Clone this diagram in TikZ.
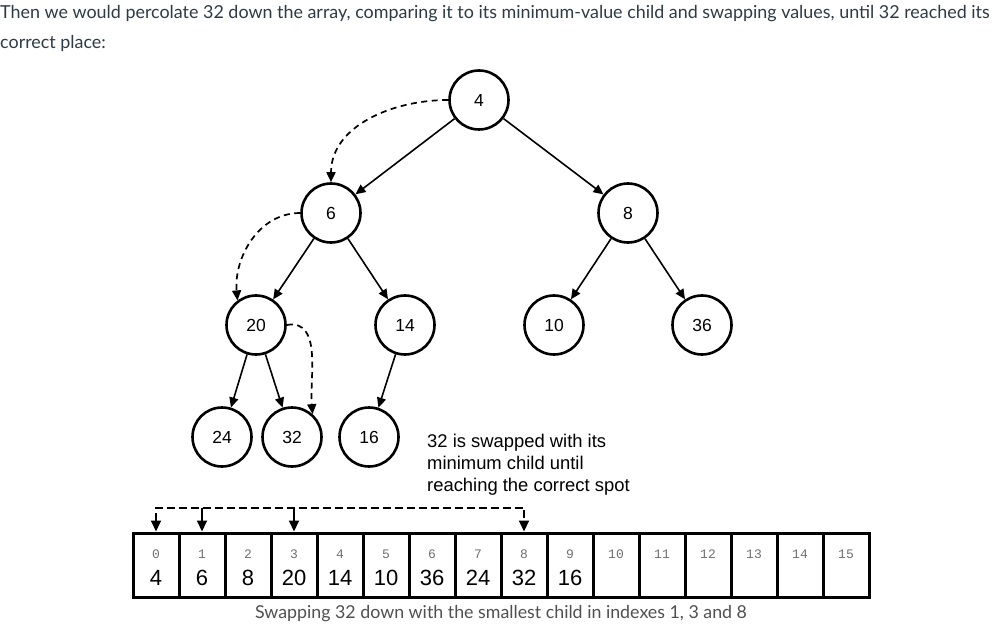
\documentclass[tikz,border=0pt]{standalone}
\usepackage{fontspec}
\setmainfont{Liberation Sans}
\newfontfamily\latofont{Lato}
\newfontfamily\cellmono{Liberation Mono}
\usetikzlibrary{arrows.meta}
\definecolor{bodytext}{HTML}{2D3B45}
\definecolor{captext}{HTML}{505050}
\definecolor{idxgray}{HTML}{707070}
\tikzset{
  nd/.style={circle, draw, line width=2.6pt, minimum size=59pt, inner sep=0pt, font=\fontsize{17.5}{20}\selectfont},
  edge/.style={line width=1.6pt, -{Triangle[length=10pt,width=9pt]}},
  swapcurve/.style={line width=1.7pt, dash pattern=on 6pt off 4.5pt, -{Triangle[length=10pt,width=9pt]}},
  cell/.style={draw, line width=3pt, minimum width=46pt, minimum height=64pt, inner sep=0pt},
  idx/.style={anchor=base, inner sep=0pt, text=idxgray, font=\cellmono\fontsize{13}{15}\selectfont},
  val/.style={anchor=base, inner sep=0pt, font=\fontsize{22}{24}\selectfont},
  arrline/.style={line width=2pt, {Triangle[length=11pt,width=10pt]}-{Triangle[length=11pt,width=10pt]}, dash pattern=on 8pt off 4pt},
  arrsolid/.style={line width=2pt, -{Triangle[length=11pt,width=10pt]}},
}
\begin{document}
\begin{tikzpicture}[x=1pt,y=1pt]
\fill[white] (0,0) rectangle (995,-628);
\useasboundingbox (0,0) rectangle (995,-628);
% top text
\node[anchor=base west, inner sep=0pt, text=bodytext, font=\latofont\fontsize{17.9}{20}\selectfont] (t1) at (0,-19) {Then we would percolate 32 down the array, comparing it to its minimum-value child and swapping values, until 32 reached its};
\node[anchor=base west, inner sep=0pt, text=bodytext, font=\latofont\fontsize{17.9}{20}\selectfont] (t2) at (0,-49) {correct place:};
% tree
\node[nd] (n4) at (479,-100) {4};
\node[nd] (n6) at (331,-213) {6};
\node[nd] (n8) at (628,-213) {8};
\node[nd] (n20) at (256,-325) {20};
\node[nd] (n14) at (405,-325) {14};
\node[nd] (n10) at (554,-325) {10};
\node[nd] (n36) at (702,-325) {36};
\node[nd] (n24) at (222,-437) {24};
\node[nd] (n32) at (292,-437) {32};
\node[nd] (n16) at (369,-437) {16};
\draw[edge] (n4) -- (n6);
\draw[edge] (n4) -- (n8);
\draw[edge] (n6) -- (n20);
\draw[edge] (n6) -- (n14);
\draw[edge] (n8) -- (n10);
\draw[edge] (n8) -- (n36);
\draw[edge] (n20) -- (n24);
\draw[edge] (n20) -- (n32);
\draw[edge] (n14) -- (n16);
\draw[swapcurve] (n4.west) to[out=180,in=90] (n6.north);
\draw[swapcurve] (n6.west) to[out=180,in=95] (n20.127);
\draw[swapcurve] (n20.east) to[out=10,in=95] (n32.48);
% note
\node[anchor=north west, inner sep=0pt, align=left, font=\fontsize{18.4}{22}\selectfont] (note) at (427,-434) {32 is swapped with its\\minimum child until\\reaching the correct spot};
% array
\foreach \i in {0,...,15} {
  \node[cell] (c\i) at (156+46*\i,-565) {};
  \node[idx] at (156+46*\i,-558) {\i};
}
\foreach \v [count=\j from 0] in {4,6,8,20,14,10,36,24,32,16} {
  \node[val] at (156+46*\j,-585) {\v};
}
\draw[arrline] (c0.north) -- ([yshift=24pt]c0.north) -| (c8.north);
\draw[arrsolid] ([yshift=24pt]c1.north) -- (c1.north);
\draw[arrsolid] ([yshift=24pt]c3.north) -- (c3.north);
% caption
\node[anchor=base, inner sep=0pt, text=captext, font=\latofont\fontsize{17.8}{20}\selectfont] (cap) at (501,-618) {Swapping 32 down with the smallest child in indexes 1, 3 and 8};
\end{tikzpicture}
\end{document}
